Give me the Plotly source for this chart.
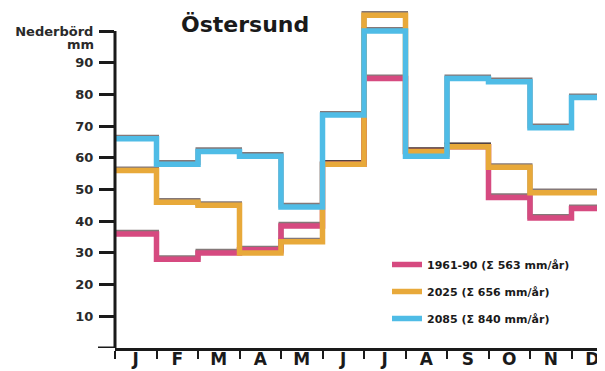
import plotly.graph_objects as go

months = ["J", "F", "M", "A", "M", "J", "J", "A", "S", "O", "N", "D"]
p1961 = [36, 28, 30, 31, 38.5, 58, 85, 62, 63.5, 47.5, 41, 44]
p2025 = [56, 46, 45, 30, 33.5, 58, 105, 62, 63.5, 57, 49, 49]
p2085 = [66, 58, 62, 60.5, 44.5, 73.5, 100, 60.5, 85, 84, 69.5, 79]
series_names = ["1961-90 (Σ 563 mm/år)", "2025 (Σ 656 mm/år)", "2085 (Σ 840 mm/år)"]
series_colors = ["#d64a80", "#e8a93a", "#4fbce6"]
ytick_vals = [10, 20, 30, 40, 50, 60, 70, 80, 90, 100]
ytick_text = ["10", "20", "30", "40", "50", "60", "70", "80", "90", "Nederbörd"]

# the page body adds an 8 px offset; size the figure so it fills the window
OFF = 8
W, H = 605 - OFF, 371 - OFF
ML, MR, MT, MB = 107, 0, 0, 23
PW, PH = W - ML - MR, H - MT - MB
px_per_month = 41.5
px_per_unit = 3.17
xmax = PW / px_per_month
ymax = PH / px_per_unit
FONT = "DejaVu Sans"
INK = "#1a1a1a"


def xp(sx):  # screen x -> paper x
    return (sx - OFF - ML) / PW


def yp(sy):  # screen y -> paper y
    return (OFF + MT + PH - sy) / PH


xs = list(range(len(months) + 1))
fig = go.Figure()
shadow_dy = 1.6 / px_per_unit

for vals in [p1961, p2025, p2085]:
    fig.add_trace(go.Scatter(x=xs, y=vals + [vals[-1]], mode="lines", line_shape="hv",
                             line=dict(color="rgba(50,30,30,0.6)", width=5),
                             showlegend=False, hoverinfo="skip", xaxis="x", yaxis="y"))
for name, vals, col in zip(series_names, [p1961, p2025, p2085], series_colors):
    fig.add_trace(go.Scatter(x=xs, y=vals + [vals[-1]], mode="lines", line_shape="hv",
                             line=dict(color=col, width=5.5), name=name, legendgroup=name,
                             xaxis="x2", yaxis="y2"))

fig.update_layout(
    width=W, height=H, margin=dict(l=ML, r=MR, t=MT, b=MB, autoexpand=False),
    paper_bgcolor="white", plot_bgcolor="white",
    xaxis=dict(range=[0, xmax], visible=False, automargin=False),
    yaxis=dict(range=[0 - shadow_dy, ymax - shadow_dy], visible=False, automargin=False),
    xaxis2=dict(overlaying="x", anchor="y2", range=[0, xmax], showgrid=False, zeroline=False,
                automargin=False, showline=True, linecolor=INK, linewidth=3,
                tickmode="array", tickvals=[i + 0.5 for i in range(len(months))], ticktext=months,
                ticks="", ticklabelstandoff=-6,
                tickfont=dict(family=FONT, size=17, color=INK, weight="bold"),
                minor=dict(tick0=0, dtick=1, ticks="outside", ticklen=8, tickwidth=2,
                           tickcolor=INK, showgrid=False)),
    yaxis2=dict(overlaying="y", anchor="x2", range=[0, ymax], showgrid=False, zeroline=False,
                automargin=False, showline=False,
                tickmode="array", tickvals=ytick_vals, ticktext=ytick_text,
                ticks="outside", ticklen=15, tickwidth=2.5, tickcolor=INK, ticklabelstandoff=3,
                tickfont=dict(family=FONT, size=13, color="#2a2a2a", weight="bold")),
    legend=dict(x=xp(387), y=yp(250), xanchor="left", yanchor="top",
                bgcolor="rgba(0,0,0,0)", traceorder="grouped", tracegroupgap=8,
                font=dict(family=FONT, size=11, color=INK, weight="bold")),
    showlegend=True,
)
# axis lines (y axis stops at the "Nederbörd" tick, both axes overshoot the corner)
fig.add_shape(type="line", xref="paper", yref="y2", x0=0, x1=0, y0=-10 / px_per_unit, y1=100,
              line=dict(color=INK, width=3))
fig.add_shape(type="line", xref="paper", yref="y2", x0=xp(98), x1=0, y0=0, y1=0,
              line=dict(color=INK, width=3))
fig.add_annotation(text="<b>mm</b>", xref="paper", yref="paper", x=xp(80), y=yp(45),
                   showarrow=False, font=dict(family=FONT, size=13, color="#2a2a2a"),
                   xanchor="center", yanchor="middle")
fig.add_annotation(text="<b>Östersund</b>", xref="paper", yref="paper", x=xp(245), y=yp(24),
                   showarrow=False, xanchor="center", yanchor="middle",
                   font=dict(family=FONT, size=22, color=INK))
fig.write_html("out.html")
